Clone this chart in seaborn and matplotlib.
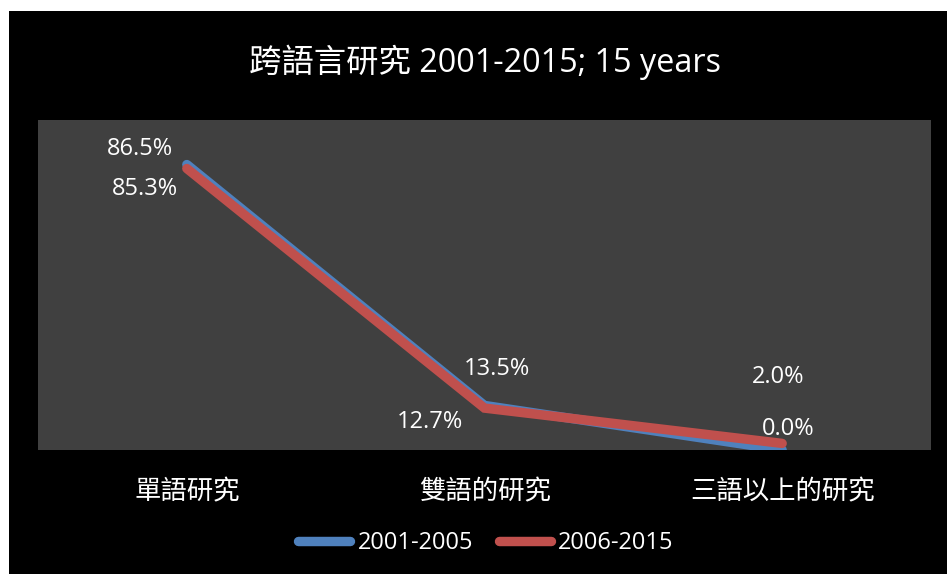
import matplotlib
matplotlib.use("Agg")
import matplotlib.pyplot as plt
from matplotlib.patches import Rectangle
import seaborn as sns
import pandas as pd

# Share of cross-language studies by language scope
categories = ["單語研究", "雙語的研究", "三語以上的研究"]
period_a = "2001-2005"
period_b = "2006-2015"
values_a = [86.5, 13.5, 0.0]
values_b = [85.3, 12.7, 2.0]
title = "跨語言研究 2001-2015; 15 years"

colors = {period_a: "#4F81BD", period_b: "#C0504D"}

df = pd.DataFrame({
    "category": categories * 2,
    "value": values_a + values_b,
    "period": [period_a] * len(categories) + [period_b] * len(categories),
})

sns.set_theme(style="dark")
fonts = ["Open Sans", "Noto Sans CJK TC", "DejaVu Sans"]
plt.rcParams["font.family"] = fonts

fig = plt.figure(figsize=(9.47, 5.74), dpi=100, facecolor="white")
# black panel with a thin white margin on the top and left
fig.patches.append(Rectangle((9 / 947, 0), 1 - 9 / 947, 1 - 11 / 574,
                             transform=fig.transFigure, facecolor="black",
                             edgecolor="none", zorder=-10))

ax = fig.add_axes([38 / 947, 124 / 574, (931 - 38) / 947, (450 - 120) / 574])
ax.set_facecolor("#404040")

sns.lineplot(data=df, x="category", y="value", hue="period", palette=colors,
             hue_order=[period_a, period_b], sort=False, linewidth=6.8,
             ax=ax, legend=True)
for ln in ax.get_lines():
    ln.set_solid_capstyle("round")
    ln.set_solid_joinstyle("miter")

ax.set_xlim(-0.5, len(categories) - 0.5)
ax.set_ylim(0, 100)
ax.set_yticks([])
ax.set_xlabel("")
ax.set_ylabel("")
ax.grid(False)
for s in ax.spines.values():
    s.set_visible(False)
ax.tick_params(axis="x", colors="white", labelsize=19, pad=22, length=0)

# data labels with per-point offsets (pixels)
label_offsets_a = [(-47, 16), (12, 36), (6, 21)]
label_offsets_b = [(-42, -20), (-55, -14), (-4, 66)]
for vals, offs in ((values_a, label_offsets_a), (values_b, label_offsets_b)):
    for i, (v, (dx, dy)) in enumerate(zip(vals, offs)):
        ax.annotate(f"{v:.1f}%", xy=(i, v), xytext=(dx, dy),
                    textcoords="offset pixels", ha="center", va="center",
                    color="white", fontsize=17)

fig.text(485 / 947, 1 - 62 / 574, title, ha="center", va="center",
         color="white", fontsize=23.3)

leg = ax.legend(loc="center", bbox_to_anchor=(486 / 947, 1 - 543 / 574),
                bbox_transform=fig.transFigure, ncol=2, frameon=False,
                fontsize=17, handlelength=2.2, handletextpad=0.3,
                columnspacing=1.1)
for t in leg.get_texts():
    t.set_color("white")
for h in leg.legend_handles:
    h.set_linewidth(6.8)
    h.set_solid_capstyle("round")

fig.savefig("out.png", dpi=100, facecolor=fig.get_facecolor())
